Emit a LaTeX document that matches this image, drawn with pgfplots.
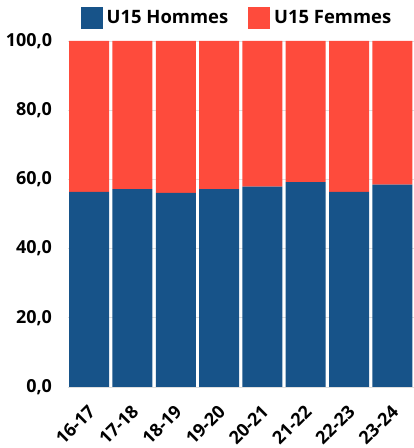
\documentclass[border=0pt]{standalone}
\usepackage{pgfplots}
\pgfplotsset{compat=1.18}
\usepackage{fontspec}
\setmainfont{Open Sans}
\definecolor{hblue}{HTML}{175389}
\definecolor{fred}{HTML}{FE4B3C}
\begin{document}
\begin{tikzpicture}
\useasboundingbox (0,0) rectangle (414bp,448bp);
\begin{axis}[
  at={(67.5bp,61bp)}, anchor=south west,
  scale only axis, width=346.5bp, height=346bp,
  ybar stacked, bar width=40bp,
  xmin=-0.5, xmax=7.5, ymin=0, ymax=100,
  xtick={0,...,7},
  xticklabels={16-17,17-18,18-19,19-20,20-21,21-22,22-23,23-24},
  ytick={0,20,40,60,80,100},
  /pgf/number format/.cd, fixed, fixed zerofill, precision=1, use comma, 1000 sep={}, assume math mode=true,
  /pgfplots/.cd,
  axis line style={draw=none},
  major tick length=0pt,
  ymajorgrids, grid style={gray!25, line width=0.8bp},
  yticklabel style={font=\bfseries\fontsize{18}{18}\selectfont, xshift=-12bp},
  xticklabel style={font=\bfseries\fontsize{18}{18}\selectfont, xshift=-2bp, yshift=-15bp, rotate=45, anchor=north east, inner sep=1bp},
  legend style={draw=none, fill=none, legend columns=2, at={(0.492,1.066)}, anchor=center,
    font=\bfseries\fontsize{18.5}{18.5}\selectfont,
    /tikz/every even column/.append style={column sep=16bp},
    nodes={inner sep=4bp}},
  legend image code/.code={\fill[#1] (0bp,-11bp) rectangle (22bp,11bp);},
]
\addplot[fill=hblue, draw=none] coordinates {(0,56.4) (1,57.2) (2,56.1) (3,57.2) (4,57.9) (5,59.2) (6,56.4) (7,58.5)};
\addplot[fill=fred, draw=none] coordinates {(0,43.6) (1,42.8) (2,43.9) (3,42.8) (4,42.1) (5,40.8) (6,43.6) (7,41.5)};
\legend{U15 Hommes, U15 Femmes}
\end{axis}
\end{tikzpicture}
\end{document}
